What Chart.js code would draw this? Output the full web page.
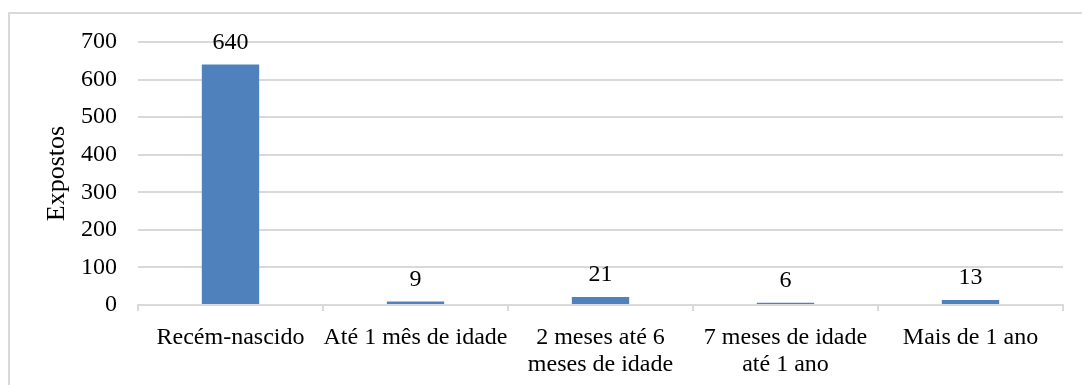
<!DOCTYPE html>
<html>
<head>
<meta charset="utf-8">
<script src="https://cdn.jsdelivr.net/npm/chart.js@4/dist/chart.umd.min.js"></script>
<style>
  html, body { margin: 0; padding: 0; background: #fff; }
  #wrap { position: relative; width: 1082px; height: 385px; }
</style>
</head>
<body>
<div id="wrap"><canvas id="c" width="1082" height="385"></canvas></div>
<script>
const categories = [
  'Recém-nascido',
  'Até 1 mês de idade',
  ['2 meses até 6', 'meses de idade'],
  ['7 meses de idade', 'até 1 ano'],
  'Mais de 1 ano'
];
const expostos = [640, 9, 21, 6, 13];
const yTitle = 'Expostos';
const yMin = 0, yMax = 700, yStep = 100;

const FONT = '"Liberation Serif", "Times New Roman", serif';
const GRID = '#d9d9d9';
const BAR = '#4f81bd';

const frame = {
  id: 'frame',
  beforeDraw(chart) {
    const ctx = chart.ctx;
    ctx.save();
    ctx.fillStyle = '#fff';
    ctx.fillRect(0, 0, chart.width, chart.height);
    ctx.strokeStyle = GRID;
    ctx.lineWidth = 2;
    ctx.strokeRect(9, 13, 1200, 500);
    ctx.restore();
  }
};

const valueLabels = {
  id: 'valueLabels',
  afterDatasetsDraw(chart) {
    const ctx = chart.ctx;
    ctx.save();
    ctx.font = '24px ' + FONT;
    ctx.fillStyle = '#000';
    ctx.textAlign = 'center';
    ctx.textBaseline = 'middle';
    chart.getDatasetMeta(0).data.forEach((bar, i) => {
      ctx.fillText(String(expostos[i]), bar.x, bar.y - 22);
    });
    ctx.restore();
  }
};

new Chart(document.getElementById('c'), {
  type: 'bar',
  data: {
    labels: categories,
    datasets: [{
      data: expostos,
      backgroundColor: BAR,
      borderWidth: 0,
      barPercentage: 0.31,
      categoryPercentage: 1
    }]
  },
  options: {
    responsive: false,
    animation: false,
    devicePixelRatio: 1,
    layout: { padding: { left: 0, right: 19, top: 42, bottom: 0 } },
    plugins: {
      legend: { display: false },
      tooltip: { enabled: false }
    },
    scales: {
      x: {
        grid: {
          display: true,
          drawOnChartArea: false,
          drawTicks: true,
          tickLength: 6,
          color: GRID,
          lineWidth: 2
        },
        border: { display: true, color: GRID, width: 2 },
        ticks: {
          color: '#000',
          font: { family: FONT, size: 24, lineHeight: 1.13 },
          padding: 13,
          maxRotation: 0,
          minRotation: 0,
          autoSkip: false
        },
        afterFit(scale) { scale.height = 80; }
      },
      y: {
        min: yMin,
        max: yMax,
        grid: {
          color: GRID,
          lineWidth: 2,
          drawTicks: false
        },
        border: { display: false },
        ticks: {
          stepSize: yStep,
          color: '#000',
          font: { family: FONT, size: 24 },
          padding: 21
        },
        title: {
          display: true,
          text: yTitle,
          color: '#000',
          font: { family: FONT, size: 26 },
          padding: { top: 42, bottom: 0 }
        },
        afterFit(scale) { scale.width = 138; }
      }
    }
  },
  plugins: [frame, valueLabels]
});
</script>
</body>
</html>
